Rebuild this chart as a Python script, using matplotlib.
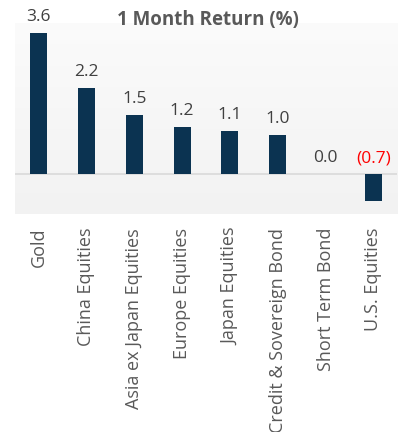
import numpy as np
import matplotlib
matplotlib.use("Agg")
import matplotlib.pyplot as plt
from matplotlib.colors import LinearSegmentedColormap

categories = ["Gold", "China Equities", "Asia ex Japan Equities", "Europe Equities",
              "Japan Equities", "Credit & Sovereign Bond", "Short Term Bond", "U.S. Equities"]
values = [3.6, 2.2, 1.5, 1.2, 1.1, 1.0, 0.0, -0.7]
title = "1 Month Return (%)"

W, H = 415, 432
fig = plt.figure(figsize=(W / 100, H / 100), dpi=100)
left, right, top, bottom = 14.6, 397.4, 23, 214
ax = fig.add_axes([left / W, 1 - bottom / H, (right - left) / W, (bottom - top) / H])

ymin, ymax = -1.02, 3.85
ax.set_xlim(-0.5, len(categories) - 0.5)
ax.set_ylim(ymin, ymax)

# faint vertical gradient background
cmap = LinearSegmentedColormap.from_list("bg", ["#f2f2f2", "#fbfbfb"])
grad = np.linspace(0, 1, 256).reshape(-1, 1)
ax.imshow(grad, extent=[-0.5, len(categories) - 0.5, ymin, ymax], origin="lower",
          aspect="auto", cmap=cmap, zorder=0)

x = np.arange(len(categories))
ax.bar(x, values, width=0.355, color="#0b3351", zorder=2)
ax.axhline(0, color="#d9d9d9", lw=1.2, zorder=1)

for xi, v in zip(x, values):
    base = max(v, 0)
    txt = f"{v:.1f}" if v >= 0 else f"({abs(v):.1f})"
    col = "#404040" if v >= 0 else "#ff0000"
    ax.text(xi, base + 0.2, txt, ha="center", va="bottom", fontsize=12.5,
            family="Open Sans", color=col, zorder=3)

for s in ax.spines.values():
    s.set_visible(False)
ax.set_yticks([])
ax.set_xticks(x)
ax.set_xticklabels(categories, rotation=90, fontsize=13, family="Open Sans", color="#595959")
ax.tick_params(axis="x", length=0, pad=10)

fig.text(208 / W, 1 - 20 / H, title, ha="center", va="center", fontsize=13.5,
         fontweight="bold", family="Open Sans", color="#595959")

fig.savefig("out.png", dpi=100)
